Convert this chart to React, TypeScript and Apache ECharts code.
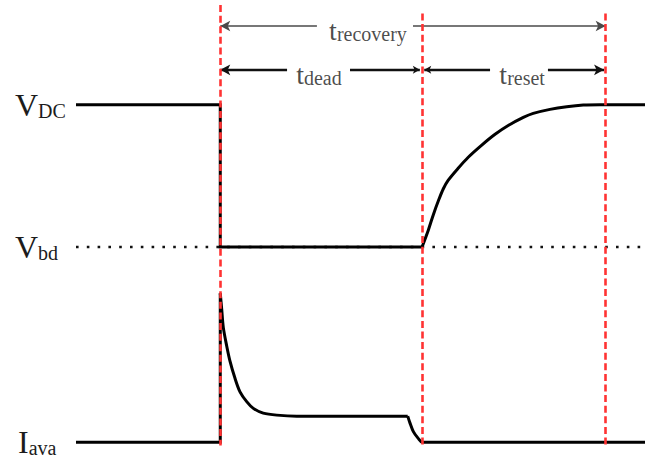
import React, { useEffect, useRef } from "react";
import * as echarts from "echarts";

// Time axis (arbitrary units): avalanche starts at t = 0
const T_START = -71.5;
const T_END = 210.5;

// Signal levels (arbitrary units)
const V_DC = 10;
const V_BD = 5.78;
const I_AVA = 0;

// Device voltage: collapses to V_bd at t = 0, recharges to V_DC after the dead time
const voltageT = [-71.5, 0, 0, 100, 103.1, 105.6, 108.1, 110.5, 113.0, 118.0, 122.9, 129.6, 136.2, 142.7, 150.2, 155.1, 163.4, 171.7, 179.9, 188.2, 210.5];
const voltageV = [10, 10, 5.78, 5.78, 6.28, 6.74, 7.15, 7.5, 7.76, 8.12, 8.44, 8.8, 9.12, 9.38, 9.62, 9.74, 9.86, 9.94, 9.99, 10, 10];

// Avalanche current: spike, decay to a plateau, quench at the end of the dead time
const currentT = [-71.5, 0, 0, 0.7, 1.5, 3.19, 4.82, 7.3, 9.78, 13.1, 16.4, 21.3, 28.0, 37.9, 92.9, 94.0, 95.7, 98.1, 100, 210.5];
const currentI = [0, 0, 4.41, 3.95, 3.4, 2.85, 2.4, 1.89, 1.49, 1.2, 1.0, 0.86, 0.8, 0.77, 0.77, 0.57, 0.31, 0.11, 0, 0];

// Level labels on the left
const levelValues = [V_DC, V_BD, I_AVA];
const levelMain = ["V", "V", "I"];
const levelSub = ["DC", "bd", "ava"];

// Event markers (red dashed verticals)
const markerTimes = [0, 100, 191];
const markerTop = [12.95, 12.7, 12.7];
const MARKER_BOTTOM = -0.1;

// Interval annotations: t_recovery, t_dead, t_reset
const spanNames = ["recovery", "dead", "reset"];
const spanFrom = [0, 0, 101.1];
const spanTo = [191, 98.9, 190.2];
const spanGapFrom = [47.9, 33.1, 133.7];
const spanGapTo = [95.5, 64.3, 162.4];
const spanY = [12.33, 11.03, 11.03];
const spanLabelT = [73.2, 48.9, 149.6];
const spanLabelY = [12.21, 10.9, 10.9];

const SERIF = "'Liberation Serif', 'Times New Roman', 'DejaVu Serif', serif";
const TEXT = "#1c1c1c";
const RED = "#ff3333";

const waveStyle = { color: "#000", width: 3, join: "miter" as const };

function wave(name: string, data: number[][], smooth: boolean) {
  return {
    name,
    type: "line",
    z: 2,
    silent: true,
    showSymbol: false,
    smooth: smooth ? 0.3 : false,
    data,
    lineStyle: waveStyle,
  };
}

export default function App() {
  const ref = useRef<HTMLDivElement>(null);

  useEffect(() => {
    if (!ref.current) return;
    const chart = echarts.init(ref.current, undefined, { renderer: "svg" });

    const voltage = voltageT.map((t, i) => [t, voltageV[i]]);
    const current = currentT.map((t, i) => [t, currentI[i]]);

    const redLines = markerTimes.map((t, i) => [
      { coord: [t, markerTop[i]] },
      { coord: [t, MARKER_BOTTOM] },
    ]);

    const spanLines: any[] = [];
    spanNames.forEach((name, i) => {
      const isOuter = name === "recovery";
      const lineStyle = isOuter
        ? { color: "#4a4a4a", width: 1.6, type: "solid" }
        : { color: "#111", width: 2.4, type: "solid" };
      const bigArrow = [8, 10];
      const smallArrow = [6, 7];
      const leftSize = name === "reset" ? smallArrow : bigArrow;
      const rightSize = name === "dead" ? smallArrow : bigArrow;
      spanLines.push([
        { coord: [spanFrom[i], spanY[i]], symbol: "arrow", symbolSize: leftSize, lineStyle },
        { coord: [spanGapFrom[i], spanY[i]], symbol: "none" },
      ]);
      spanLines.push([
        { coord: [spanGapTo[i], spanY[i]], symbol: "none", lineStyle },
        { coord: [spanTo[i], spanY[i]], symbol: "arrow", symbolSize: rightSize },
      ]);
    });

    const spanLabels = spanNames.map((name, i) => [spanLabelT[i], spanLabelY[i], name]);

    // main-letter styles per level; top padding drops the glyphs a little below the level line
    const mainStyles = ["mDC", "mbd", "mI"];

    chart.setOption({
      animation: false,
      grid: { left: 76, right: 0, top: 0, bottom: 0 },
      xAxis: { type: "value", min: T_START, max: T_END, show: false },
      yAxis: {
        type: "value",
        min: -0.5,
        max: 13.1,
        axisLine: { show: false },
        axisTick: { show: false },
        splitLine: { show: false },
        axisLabel: {
          customValues: levelValues,
          align: "left",
          margin: 61,
          formatter: (v: number) => {
            let k = 0;
            levelValues.forEach((lv, j) => {
              if (Math.abs(lv - v) < Math.abs(levelValues[k] - v)) k = j;
            });
            return `{${mainStyles[k]}|${levelMain[k]}}{s|${levelSub[k]}}`;
          },
          rich: {
            mDC: { fontFamily: SERIF, fontSize: 32, lineHeight: 32, verticalAlign: "bottom", color: TEXT, padding: [10, 0, 0, 0] },
            mbd: { fontFamily: SERIF, fontSize: 32, lineHeight: 32, verticalAlign: "bottom", color: TEXT, padding: [4, 0, 0, 0] },
            mI: { fontFamily: SERIF, fontSize: 32, lineHeight: 32, verticalAlign: "bottom", color: TEXT, padding: [0, 0, 0, 3] },
            s: { fontFamily: SERIF, fontSize: 20, lineHeight: 24, verticalAlign: "bottom", color: TEXT },
          },
        },
      },
      series: [
        {
          name: "Vbd",
          type: "line",
          z: 1,
          silent: true,
          showSymbol: false,
          data: [
            [T_START, V_BD],
            [T_END, V_BD],
          ],
          lineStyle: { color: "#111", width: 2.6, type: [2.6, 8.2] },
        },
        wave("Voltage step", voltage.slice(0, 4), false),
        wave("Voltage recharge", voltage.slice(3), true),
        wave("Current step", current.slice(0, 3), false),
        wave("Current decay", current.slice(2, 15), true),
        wave("Current quench", current.slice(14), true),
        {
          name: "Spans",
          type: "line",
          z: 4,
          data: [],
          markLine: {
            silent: true,
            symbol: "none",
            label: { show: false },
            emphasis: { disabled: true },
            lineStyle: { color: "#111", width: 2.4, type: "solid" },
            data: spanLines,
          },
        },
        {
          name: "Markers",
          type: "line",
          z: 5,
          data: [],
          markLine: {
            silent: true,
            symbol: "none",
            label: { show: false },
            emphasis: { disabled: true },
            lineStyle: { color: RED, width: 2.6, type: [7, 3.6] },
            data: redLines,
          },
        },
        {
          name: "Labels",
          type: "scatter",
          z: 6,
          silent: true,
          symbolSize: 0,
          data: spanLabels,
          label: {
            show: true,
            position: "inside",
            formatter: (p: any) => `{t|t}{s|${p.value[2]}}`,
            rich: {
              t: { fontFamily: SERIF, fontSize: 28, lineHeight: 28, verticalAlign: "bottom", color: TEXT },
              s: { fontFamily: SERIF, fontSize: 20, lineHeight: 21, verticalAlign: "bottom", color: TEXT },
            },
          },
        },
      ],
    });

    return () => chart.dispose();
  }, []);

  return (
    <div
      ref={ref}
      style={{ position: "fixed", left: 0, top: 0, width: 645, height: 459, background: "#fff" }}
    />
  );
}
